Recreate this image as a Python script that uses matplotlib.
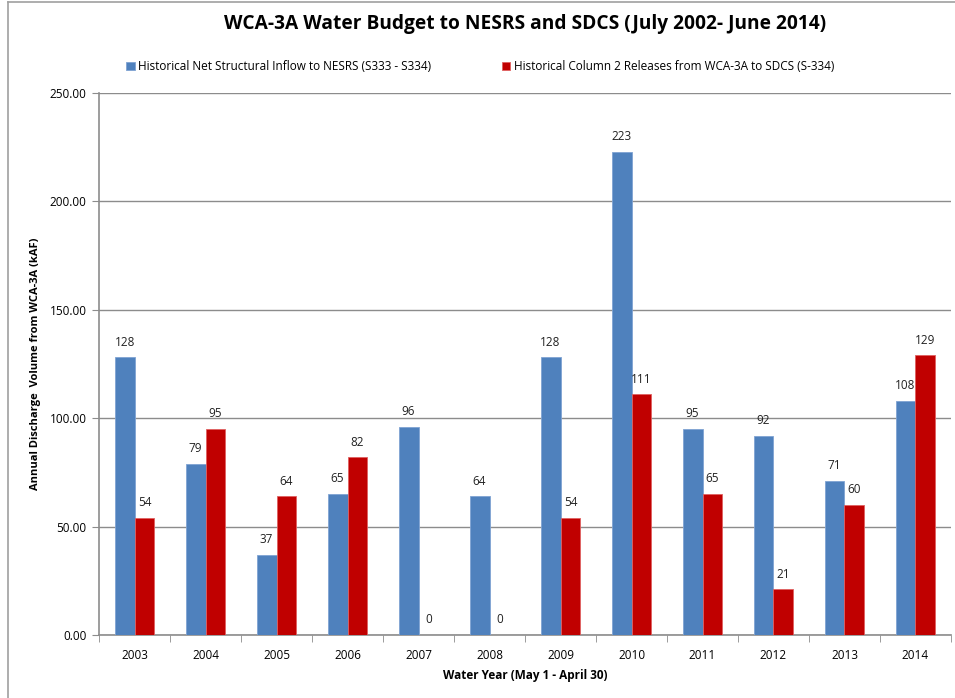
import numpy as np
import matplotlib.pyplot as plt
from matplotlib.lines import Line2D

years = ['2003', '2004', '2005', '2006', '2007', '2008',
         '2009', '2010', '2011', '2012', '2013', '2014']
nesrs_inflow = [128, 79, 37, 65, 96, 64, 128, 223, 95, 92, 71, 108]
sdcs_releases = [54, 95, 64, 82, 0, 0, 54, 111, 65, 21, 60, 129]

blue = '#4F81BD'
red = '#C00000'
grey = '#8C8C8C'

plt.rcParams['font.family'] = ['Open Sans', 'DejaVu Sans']

fig = plt.figure(figsize=(9.55, 6.98), dpi=100)
ax = fig.add_axes([0.1037, 0.0903, 0.8921, 0.7765])

x = np.arange(len(years))
w = 0.28
b1 = ax.bar(x - w / 2, nesrs_inflow, w, color=blue, edgecolor='#7FA3D3', linewidth=0.6,
            label='Historical Net Structural Inflow to NESRS (S333 - S334)', zorder=3)
b2 = ax.bar(x + w / 2, sdcs_releases, w, color=red, edgecolor='#E06060', linewidth=0.6,
            label='Historical Column 2 Releases from WCA-3A to SDCS (S-334)', zorder=3)

for bars in (b1, b2):
    for r in bars:
        h = r.get_height()
        ax.text(r.get_x() + r.get_width() / 2, h + 4, f'{h:.0f}',
                ha='center', va='bottom', fontsize=8.5, color='#222222')

ax.set_xlim(-0.5, len(years) - 0.5)
ax.set_ylim(0, 250)
ax.set_yticks(np.arange(0, 251, 50))
ax.set_yticklabels([f'{v:.2f}' for v in np.arange(0, 251, 50)], fontsize=8.5)
ax.yaxis.grid(True, color=grey, linewidth=1, zorder=0)

# year labels at centres, ticks at category boundaries
ax.set_xticks(x)
ax.set_xticklabels(years, fontsize=8.5)
ax.tick_params(axis='x', length=0, pad=10)
ax.set_xticks(np.arange(-0.5, len(years)), minor=True)
ax.tick_params(axis='x', which='minor', length=5, color=grey)
ax.tick_params(axis='y', length=5, color=grey, pad=4)

for s in ['top', 'right']:
    ax.spines[s].set_visible(False)
for s in ['left', 'bottom']:
    ax.spines[s].set_color(grey)
    ax.spines[s].set_linewidth(1.2)

ax.set_xlabel('Water Year (May 1 - April 30)', fontsize=8.5, fontweight='bold', labelpad=5)
ax.set_ylabel('Annual Discharge  Volume from WCA-3A (kAF)', fontsize=8,
              fontweight='bold', labelpad=6)

fig.suptitle('WCA-3A Water Budget to NESRS and SDCS (July 2002- June 2014)',
             x=0.550, y=0.98, fontsize=13.8, fontweight='bold')

fig.legend(handles=[b1, b2], loc='center', bbox_to_anchor=(0.503, 0.905), ncol=2,
           frameon=False, fontsize=8.5, handlelength=0.7, handleheight=0.7,
           handletextpad=0.3, columnspacing=6)

# outer chart frame (top and left edges visible in screenshot)
fig.add_artist(Line2D([0.0084, 0.0084], [0, 0.997], color='#A0A0A0', linewidth=1.2,
                      transform=fig.transFigure))
fig.add_artist(Line2D([0.0084, 1.0], [0.997, 0.997], color='#A0A0A0', linewidth=1.2,
                      transform=fig.transFigure))

fig.savefig('out.png', dpi=100)
